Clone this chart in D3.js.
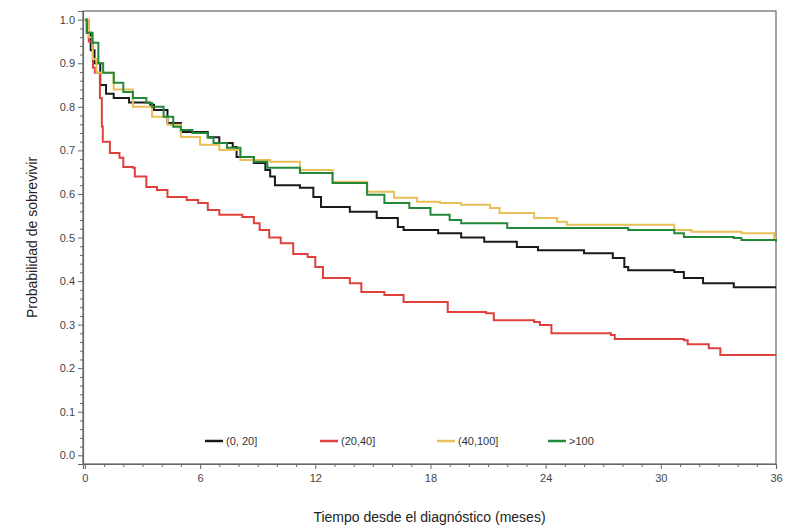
<!DOCTYPE html>
<html>
<head>
<meta charset="utf-8">
<script src="https://cdn.jsdelivr.net/npm/d3@7"></script>
<style>
  body { margin: 0; background: #fff; }
  text { font-family: "Liberation Sans", Arial, sans-serif; }
</style>
</head>
<body>
<div id="chart"></div>
<script>
// survival curves: [month, probability]
var groupNames = ["(0, 20]", "(20,40]", "(40,100]", ">100"];
var groupColors = ["#1a1a1a", "#e0403c", "#e8bf58", "#24883a"];

var curve0_20 = [[0,1.0],[0.1,0.97],[0.3,0.93],[0.5,0.90],[0.8,0.85],[1.1,0.83],[1.5,0.82],[2.3,0.81],[3.4,0.805],
  [3.6,0.793],[4.3,0.763],[5.0,0.742],[6.4,0.73],[7.0,0.717],[7.7,0.708],[7.9,0.685],[8.8,0.671],[9.4,0.655],
  [9.65,0.64],[9.9,0.62],[11.2,0.614],[11.9,0.593],[12.3,0.57],[13.8,0.559],[15.2,0.545],[16.3,0.524],[16.6,0.517],
  [18.4,0.51],[19.6,0.50],[20.8,0.49],[22.5,0.478],[23.6,0.471],[26.0,0.464],[27.5,0.453],[28.1,0.432],[28.3,0.425],
  [30.7,0.421],[31.2,0.407],[32.2,0.395],[33.8,0.386],[36,0.386]];

var curve20_40 = [[0,1.0],[0.2,0.95],[0.42,0.89],[0.52,0.878],[0.78,0.82],[0.88,0.755],[0.93,0.72],[1.3,0.694],
  [1.8,0.683],[2.0,0.662],[2.5,0.66],[2.6,0.64],[3.2,0.616],[3.75,0.609],[4.3,0.593],[5.3,0.586],[5.9,0.579],
  [6.4,0.563],[7.0,0.552],[8.2,0.547],[8.8,0.533],[9.1,0.517],[9.6,0.5],[10.2,0.487],[10.85,0.462],[11.6,0.455],
  [12.0,0.432],[12.4,0.407],[13.8,0.395],[14.4,0.375],[15.6,0.368],[16.6,0.352],[18.9,0.329],[20.9,0.326],
  [21.3,0.31],[23.4,0.306],[23.7,0.299],[24.3,0.28],[27.4,0.276],[27.6,0.267],[31.2,0.264],[31.4,0.255],
  [32.5,0.246],[33.1,0.23],[36,0.23]];

var curve40_100 = [[0,1.0],[0.2,0.96],[0.4,0.91],[0.6,0.878],[1.5,0.84],[2.5,0.80],[3.5,0.777],[4.3,0.759],
  [5.0,0.731],[6.0,0.713],[7.0,0.701],[8.1,0.678],[9.65,0.674],[11.2,0.655],[12.9,0.628],[14.7,0.605],[16.1,0.591],
  [17.3,0.582],[18.5,0.579],[19.6,0.575],[21.1,0.568],[21.6,0.556],[23.4,0.545],[24.6,0.536],[25.1,0.529],
  [29.8,0.529],[30.7,0.517],[31.6,0.513],[34.2,0.51],[35.9,0.499],[36,0.499]];

var curveOver100 = [[0,1.0],[0.1,0.97],[0.4,0.947],[0.7,0.90],[0.95,0.878],[1.5,0.855],[2.0,0.834],[2.5,0.82],
  [3.2,0.809],[3.5,0.80],[4.1,0.777],[4.6,0.754],[5.0,0.747],[5.6,0.74],[6.4,0.729],[6.7,0.717],[7.4,0.706],
  [8.1,0.685],[8.8,0.674],[9.5,0.66],[11.2,0.648],[12.9,0.625],[14.7,0.598],[15.6,0.579],[16.9,0.568],[18.0,0.552],
  [19.0,0.54],[19.6,0.533],[22.0,0.522],[28.3,0.517],[30.7,0.51],[31.2,0.501],[33.8,0.499],[34.2,0.494],[36,0.49]];

var allCurves = [curve0_20, curve20_40, curve40_100, curveOver100];

var xTicks = [0, 6, 12, 18, 24, 30, 36];
var yTicks = [0, 0.1, 0.2, 0.3, 0.4, 0.5, 0.6, 0.7, 0.8, 0.9, 1.0];

// chart size
var W = 785, H = 531;
var pLeft = 83, pRight = 776, pTop = 11, pBottom = 464;

var svg = d3.select("#chart").append("svg")
    .attr("width", W)
    .attr("height", H);

var x = d3.scaleLinear().domain([-0.1, 36]).range([pLeft, pRight]);
var y = d3.scaleLinear().domain([-0.02, 1.02]).range([pBottom, pTop]);

// frame
svg.append("rect")
    .attr("x", pLeft).attr("y", pTop)
    .attr("width", pRight - pLeft).attr("height", pBottom - pTop)
    .attr("fill", "none").attr("stroke", "#666").attr("stroke-width", 1.2);

// x axis, major + minor ticks
svg.append("g")
    .attr("transform", "translate(0," + pBottom + ")")
    .call(d3.axisBottom(x).tickValues(xTicks).tickSize(5).tickPadding(5).tickFormat(d3.format("d")));
svg.append("g")
    .attr("transform", "translate(0," + pBottom + ")")
    .call(d3.axisBottom(x).tickValues(d3.range(0, 37, 1).filter(d => d % 6 != 0)).tickSize(3).tickFormat(""))
    .select(".domain").remove();

// y axis
svg.append("g")
    .attr("transform", "translate(" + pLeft + ",0)")
    .call(d3.axisLeft(y).tickValues(yTicks).tickSize(5).tickPadding(3).tickFormat(d3.format(".1f")));
svg.append("g")
    .attr("transform", "translate(" + pLeft + ",0)")
    .call(d3.axisLeft(y).tickValues(d3.range(0, 51).map(d => d / 50).filter((d, i) => i % 5 != 0)).tickSize(3).tickFormat(""))
    .select(".domain").remove();

svg.selectAll(".domain").attr("stroke", "#666").attr("stroke-width", 1.2);
svg.selectAll(".tick line").attr("stroke", "#666");
svg.selectAll(".tick text").attr("fill", "#444").attr("font-size", 11)
    .style("font-family", "Liberation Sans, Arial, sans-serif");

// curves
var line = d3.line()
    .x(d => x(d[0]))
    .y(d => y(d[1]))
    .curve(d3.curveStepAfter);

svg.append("g")
  .selectAll("path")
  .data(allCurves)
  .enter()
  .append("path")
    .attr("d", line)
    .attr("fill", "none")
    .attr("stroke", (d, i) => groupColors[i])
    .attr("stroke-width", 2);

// legend
var legendX = [205, 320, 437, 548];
var legend = svg.append("g");
groupNames.forEach(function(name, i) {
  legend.append("line")
      .attr("x1", legendX[i]).attr("x2", legendX[i] + 18)
      .attr("y1", 441).attr("y2", 441)
      .attr("stroke", groupColors[i]).attr("stroke-width", 2.5);
  legend.append("text")
      .attr("x", legendX[i] + 21).attr("y", 445)
      .attr("font-size", 11).attr("fill", "#333")
      .text(name);
});

// axis titles
svg.append("text")
    .attr("x", (pLeft + pRight) / 2).attr("y", 522)
    .attr("text-anchor", "middle")
    .attr("font-size", 14).attr("fill", "#222")
    .text("Tiempo desde el diagnóstico (meses)");

svg.append("text")
    .attr("transform", "translate(37," + ((pTop + pBottom) / 2) + ") rotate(-90)")
    .attr("text-anchor", "middle")
    .attr("font-size", 14).attr("fill", "#222")
    .text("Probabilidad de sobrevivir");
</script>
</body>
</html>
